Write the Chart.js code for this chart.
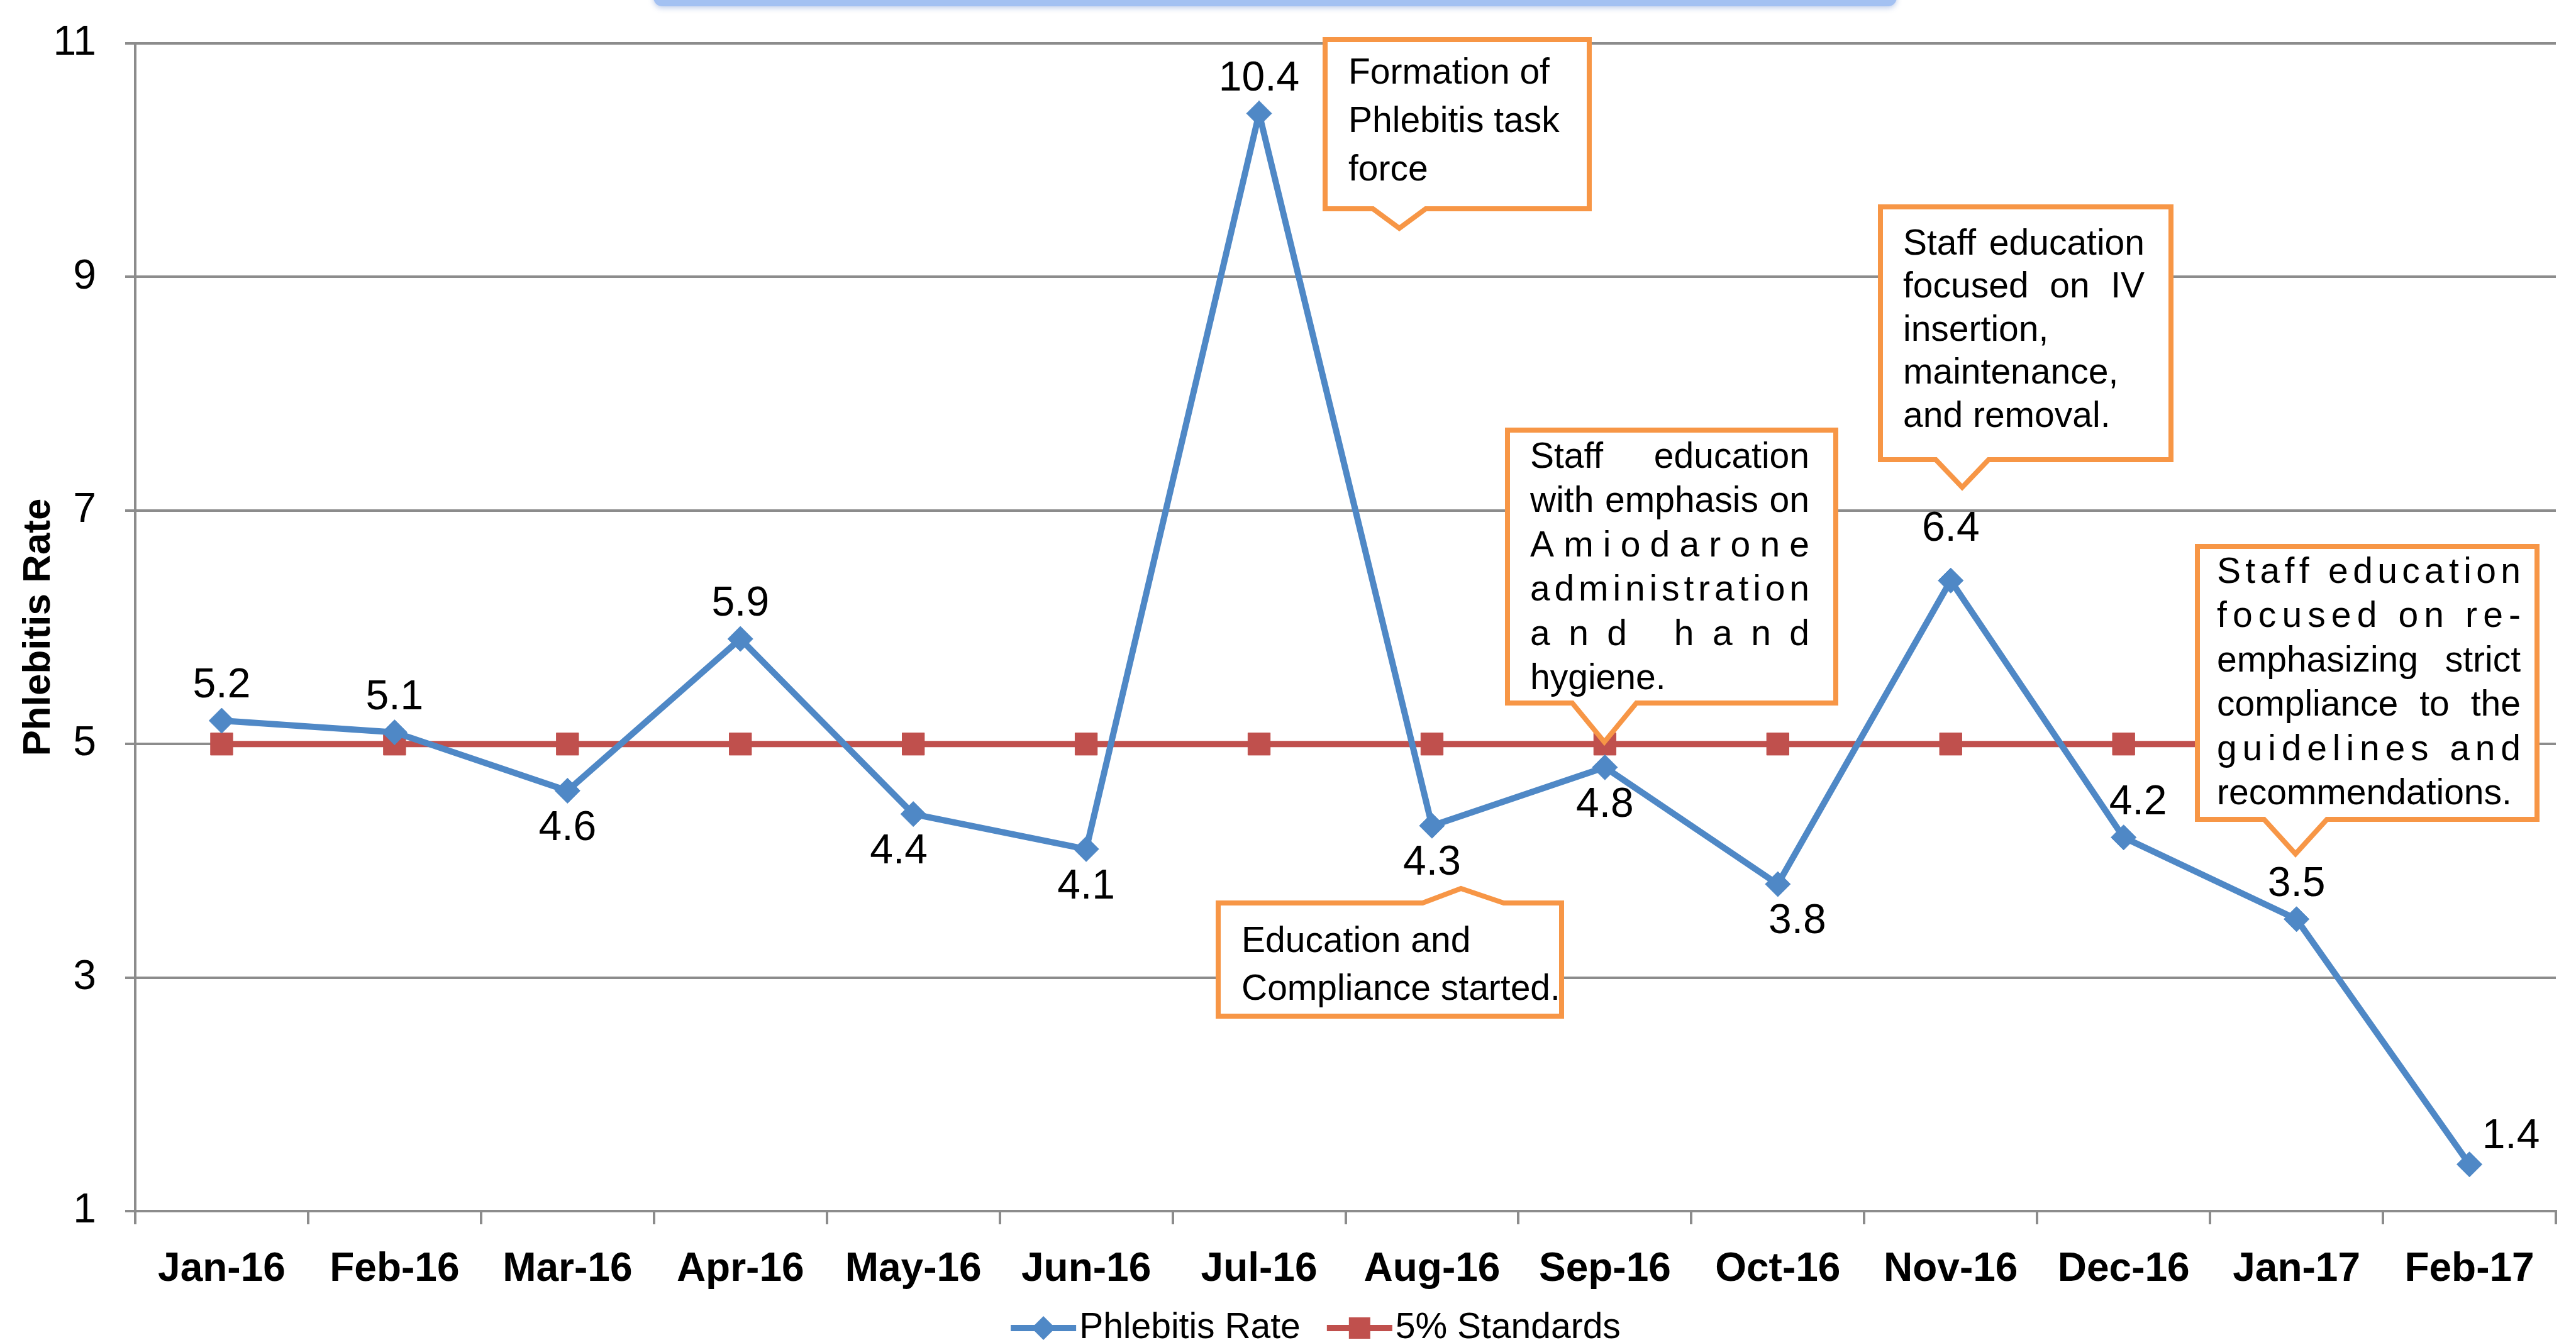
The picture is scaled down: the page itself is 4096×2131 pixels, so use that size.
<!DOCTYPE html>
<html>
<head>
<meta charset="utf-8">
<script src="https://cdn.jsdelivr.net/npm/chart.js@4.4.1/dist/chart.umd.min.js"></script>
<style>
  html, body { margin: 0; padding: 0; background: #fff; overflow: hidden; }
  #wrap { width: 4096px; height: 2131px; position: relative; }
</style>
</head>
<body>
<div id="wrap"><canvas id="chart" width="4096" height="2131"></canvas></div>
<script>
// ---- data ----
const months = ['Jan-16','Feb-16','Mar-16','Apr-16','May-16','Jun-16','Jul-16','Aug-16','Sep-16','Oct-16','Nov-16','Dec-16','Jan-17','Feb-17'];
const phlebitisRate = [5.2, 5.1, 4.6, 5.9, 4.4, 4.1, 10.4, 4.3, 4.8, 3.8, 6.4, 4.2, 3.5, 1.4];
const standards = [5, 5, 5, 5, 5, 5, 5, 5, 5, 5, 5, 5, 5, 5];
const yTicks = [1, 3, 5, 7, 9, 11];

// where each value label sits relative to its point
const labelSide = ['up','up','down','up','down','down','up','down','down','down','up','up','up','right'];
const labelShiftX = [0, 0, 0, 0, -23, 0, 0, 0, 0, 31, 0, 23, 0, 0];
const labelShiftY = [0, 0, 0, 0, 0, 0, 0, 0, 0, 0, -26, 0, 0, 0];

const BLUE = '#4f88c6';
const RED = '#c0504d';
const ORANGE = '#f79646';
const GRID = '#8c8c8c';
const FONT = "'Liberation Sans', Arial, Helvetica, sans-serif";

Chart.defaults.font.family = FONT;

// ---- callouts (n = left, w = spread words, c = spread letters) ----
const callouts = [
  { x0: 2107, x1: 2527, y0: 63, y1: 332, dir: 'down', na: 2183, nb: 2267, tipX: 2225, tipY: 363,
    tx: 2144, tw: 360, ty: 117, lh: 77,
    lines: [['Formation of','n'],['Phlebitis task','n'],['force','n']] },
  { x0: 2990, x1: 3452, y0: 329, y1: 731, dir: 'down', na: 3078, nb: 3162, tipX: 3120, tipY: 775,
    tx: 3026, tw: 384, ty: 389, lh: 68.5,
    lines: [['Staff education','w'],['focused on IV','w'],['insertion,','n'],['maintenance,','n'],['and removal.','n']] },
  { x0: 2397, x1: 2919, y0: 684, y1: 1118, dir: 'down', na: 2500, nb: 2602, tipX: 2551, tipY: 1180,
    tx: 2433, tw: 444, ty: 728, lh: 70.5,
    lines: [['Staff education','w'],['with emphasis on','w'],['Amiodarone','c'],['administration','c'],['and hand','c'],['hygiene.','n']] },
  { x0: 3494, x1: 4034, y0: 869, y1: 1303, dir: 'down', na: 3600, nb: 3700, tipX: 3650, tipY: 1358,
    tx: 3525, tw: 483, ty: 911, lh: 70.5,
    lines: [['Staff education','c'],['focused on re-','c'],['emphasizing strict','w'],['compliance to the','w'],['guidelines and','c'],['recommendations.','n']] },
  { x0: 1937, x1: 2483, y0: 1436, y1: 1616, dir: 'up', na: 2262, nb: 2391, tipX: 2323, tipY: 1413,
    tx: 1974, tw: 480, ty: 1498, lh: 76,
    lines: [['Education and','n'],['Compliance started.','n']] }
];

function drawJustified(ctx, text, x, y, width, mode) {
  if (mode === 'n') { ctx.fillText(text, x, y); return; }
  const parts = mode === 'w' ? text.split(' ') : [...text];
  const widths = parts.map(p => ctx.measureText(p).width);
  const total = widths.reduce((a, b) => a + b, 0);
  const gap = (width - total) / (parts.length - 1);
  let cx = x;
  parts.forEach((p, i) => { ctx.fillText(p, cx, y); cx += widths[i] + gap; });
}

const topBar = {
  id: 'topBar',
  beforeDraw(chart) {
    const ctx = chart.ctx;
    ctx.save();
    ctx.fillStyle = '#fff';
    ctx.fillRect(0, 0, chart.width, chart.height);
    ctx.shadowColor = 'rgba(120,150,210,0.45)';
    ctx.shadowBlur = 8;
    ctx.shadowOffsetY = 3;
    ctx.fillStyle = '#a3c1f2';
    ctx.beginPath();
    ctx.roundRect(1039, -30, 1977, 40, 14);
    ctx.fill();
    ctx.restore();
  }
};

const valueLabels = {
  id: 'valueLabels',
  afterDatasetsDraw(chart) {
    const ctx = chart.ctx;
    const meta = chart.getDatasetMeta(0);
    ctx.save();
    ctx.font = '66px ' + FONT;
    ctx.fillStyle = '#000';
    ctx.textAlign = 'center';
    ctx.textBaseline = 'middle';
    meta.data.forEach((pt, i) => {
      let x = pt.x + labelShiftX[i], y = pt.y + labelShiftY[i];
      if (labelSide[i] === 'up') y -= 55;
      else if (labelSide[i] === 'down') y += 60;
      else { x += 66; y -= 44; }
      ctx.fillText(String(phlebitisRate[i]), x, y);
    });
    ctx.restore();
  }
};

const calloutPlugin = {
  id: 'callouts',
  afterDraw(chart) {
    const ctx = chart.ctx;
    ctx.save();
    callouts.forEach(c => {
      ctx.beginPath();
      if (c.dir === 'down') {
        ctx.moveTo(c.x0, c.y0);
        ctx.lineTo(c.x1, c.y0);
        ctx.lineTo(c.x1, c.y1);
        ctx.lineTo(c.nb, c.y1);
        ctx.lineTo(c.tipX, c.tipY);
        ctx.lineTo(c.na, c.y1);
        ctx.lineTo(c.x0, c.y1);
      } else {
        ctx.moveTo(c.x0, c.y0);
        ctx.lineTo(c.na, c.y0);
        ctx.lineTo(c.tipX, c.tipY);
        ctx.lineTo(c.nb, c.y0);
        ctx.lineTo(c.x1, c.y0);
        ctx.lineTo(c.x1, c.y1);
        ctx.lineTo(c.x0, c.y1);
      }
      ctx.closePath();
      ctx.fillStyle = '#fff';
      ctx.fill();
      ctx.lineWidth = 8;
      ctx.lineJoin = 'miter';
      ctx.strokeStyle = ORANGE;
      ctx.stroke();

      ctx.font = '57px ' + FONT;
      ctx.fillStyle = '#000';
      ctx.textAlign = 'left';
      ctx.textBaseline = 'middle';
      c.lines.forEach(([t, mode], i) => drawJustified(ctx, t, c.tx, c.ty + i * c.lh, c.tw, mode));
    });
    ctx.restore();
  }
};

const customLegend = {
  id: 'customLegend',
  afterDraw(chart) {
    const ctx = chart.ctx;
    const y = 2112;
    ctx.save();
    ctx.font = '57px ' + FONT;
    ctx.textBaseline = 'middle';
    ctx.textAlign = 'left';
    const items = chart.data.datasets.map(ds => ({ ds, w: 109 + ctx.measureText(ds.label).width }));
    const gap = 42;
    const total = items.reduce((s, it) => s + it.w, 0) + gap * (items.length - 1);
    let x = 2092 - total / 2;
    items.forEach(({ ds, w }) => {
      ctx.strokeStyle = ds.borderColor;
      ctx.lineWidth = 10;
      ctx.beginPath();
      ctx.moveTo(x, y);
      ctx.lineTo(x + 104, y);
      ctx.stroke();
      ctx.fillStyle = ds.borderColor;
      const cx = x + 52;
      ctx.beginPath();
      if (ds.pointStyle === 'rectRot') {
        const r = 19;
        ctx.moveTo(cx - r, y); ctx.lineTo(cx, y - r); ctx.lineTo(cx + r, y); ctx.lineTo(cx, y + r);
        ctx.closePath();
      } else {
        ctx.rect(cx - 17, y - 17, 34, 34);
      }
      ctx.fill();
      ctx.fillStyle = '#000';
      ctx.fillText(ds.label, x + 109, y);
      x += w + gap;
    });
    ctx.restore();
  }
};

new Chart(document.getElementById('chart'), {
  type: 'line',
  data: {
    labels: months,
    datasets: [
      {
        label: 'Phlebitis Rate',
        data: phlebitisRate,
        borderColor: BLUE, backgroundColor: BLUE,
        borderWidth: 10, tension: 0,
        pointStyle: 'rectRot', pointRadius: 20,
        pointBackgroundColor: BLUE, pointBorderColor: BLUE, pointBorderWidth: 1
      },
      {
        label: '5% Standards',
        data: standards,
        borderColor: RED, backgroundColor: RED,
        borderWidth: 10, tension: 0,
        pointStyle: 'rect', pointRadius: 25,
        pointBackgroundColor: RED, pointBorderColor: RED, pointBorderWidth: 1
      }
    ]
  },
  options: {
    responsive: false,
    animation: false,
    devicePixelRatio: 1,
    layout: { padding: { top: 69, right: 32, left: 0, bottom: 0 } },
    plugins: { legend: { display: false }, tooltip: { enabled: false } },
    scales: {
      x: {
        offset: true,
        grid: { display: true, drawOnChartArea: false, drawTicks: true, tickLength: 21, offset: true, color: GRID, lineWidth: 4 },
        border: { display: true, color: GRID, width: 4 },
        ticks: { font: { size: 64, weight: 'bold' }, color: '#000', padding: 34, maxRotation: 0, autoSkip: false },
        afterFit: s => { s.height = 205; }
      },
      y: {
        min: 1, max: 11,
        afterBuildTicks: s => { s.ticks = yTicks.map(v => ({ value: v })); },
        grid: { color: GRID, lineWidth: 4, tickLength: 16, drawTicks: true },
        border: { display: true, color: GRID, width: 4 },
        ticks: { font: { size: 66 }, color: '#000', padding: 46 },
        title: { display: true, text: 'Phlebitis Rate', font: { size: 62, weight: 'bold' }, color: '#000', padding: { top: 25, bottom: 0 } },
        afterFit: s => { s.width = 215; s.paddingTop = 0; s.paddingBottom = 0; }
      }
    }
  },
  plugins: [topBar, valueLabels, calloutPlugin, customLegend]
});
</script>
</body>
</html>
